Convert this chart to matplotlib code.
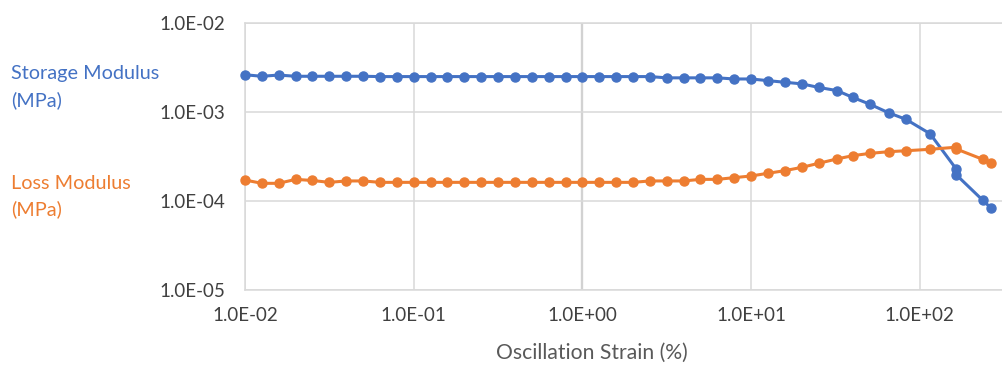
import matplotlib
matplotlib.use("Agg")
import matplotlib.pyplot as plt
from matplotlib.ticker import FuncFormatter, FixedLocator, NullLocator

# oscillation strain (%)
strain = [0.01, 0.0126, 0.0158, 0.02, 0.0251, 0.0316, 0.0398, 0.0501, 0.0631, 0.0794,
          0.1, 0.126, 0.158, 0.2, 0.251, 0.316, 0.398, 0.501, 0.631, 0.794,
          1.0, 1.26, 1.58, 2.0, 2.51, 3.16, 3.98, 5.01, 6.31, 7.94,
          10.0, 12.6, 15.8, 20.0, 25.1, 32.3, 40.0, 50.7, 65.3, 82.8,
          115, 164, 164, 236, 263]

# storage modulus (MPa)
storage = [2.62e-3, 2.52e-3, 2.60e-3, 2.52e-3, 2.52e-3, 2.52e-3, 2.52e-3, 2.52e-3, 2.50e-3, 2.50e-3,
           2.50e-3, 2.50e-3, 2.50e-3, 2.50e-3, 2.50e-3, 2.50e-3, 2.50e-3, 2.50e-3, 2.50e-3, 2.50e-3,
           2.50e-3, 2.50e-3, 2.50e-3, 2.50e-3, 2.50e-3, 2.42e-3, 2.42e-3, 2.42e-3, 2.42e-3, 2.35e-3,
           2.35e-3, 2.25e-3, 2.16e-3, 2.07e-3, 1.89e-3, 1.74e-3, 1.46e-3, 1.22e-3, 0.98e-3, 8.27e-4,
           5.7e-4, 2.3e-4, 1.98e-4, 1.02e-4, 8.4e-5]

# loss modulus (MPa)
loss = [1.72e-4, 1.58e-4, 1.58e-4, 1.75e-4, 1.70e-4, 1.62e-4, 1.68e-4, 1.68e-4, 1.62e-4, 1.62e-4,
        1.62e-4, 1.62e-4, 1.62e-4, 1.62e-4, 1.62e-4, 1.62e-4, 1.62e-4, 1.62e-4, 1.62e-4, 1.62e-4,
        1.62e-4, 1.62e-4, 1.62e-4, 1.62e-4, 1.68e-4, 1.68e-4, 1.68e-4, 1.75e-4, 1.75e-4, 1.83e-4,
        1.91e-4, 2.05e-4, 2.19e-4, 2.39e-4, 2.65e-4, 2.97e-4, 3.23e-4, 3.43e-4, 3.58e-4, 3.67e-4,
        3.81e-4, 4.02e-4, 3.85e-4, 2.94e-4, 2.65e-4]

x_ticks = [1e-2, 1e-1, 1e0, 1e1, 1e2]
y_ticks = [1e-5, 1e-4, 1e-3, 1e-2]

blue = '#4472C4'
orange = '#ED7D31'
grid_c = '#D9D9D9'
text_c = '#404040'

plt.rcParams['font.family'] = ['Lato', 'DejaVu Sans']

W, H = 1002, 367
fig = plt.figure(figsize=(W / 100, H / 100), dpi=100)
ax = fig.add_axes([245 / W, (H - 290) / H, (W - 245) / W, (290 - 23) / H])

ax.set_xscale('log')
ax.set_yscale('log')
ax.set_xlim(0.01, 307)
ax.set_ylim(1e-5, 1e-2)

ax.xaxis.set_major_locator(FixedLocator(x_ticks))
ax.yaxis.set_major_locator(FixedLocator(y_ticks))
ax.xaxis.set_minor_locator(NullLocator())
ax.yaxis.set_minor_locator(NullLocator())
fmt = FuncFormatter(lambda v, p: f"{v:.1E}")
ax.xaxis.set_major_formatter(fmt)
ax.yaxis.set_major_formatter(fmt)

ax.grid(True, color=grid_c, linewidth=1.1)
ax.axvline(1.0, color='#BFBFBF', linewidth=1.6, zorder=1)
for s in ['left', 'top', 'bottom']:
    ax.spines[s].set_color(grid_c)
    ax.spines[s].set_linewidth(1.1)
ax.spines['right'].set_visible(False)
ax.tick_params(length=0, labelsize=13.5, labelcolor=text_c)
ax.tick_params(axis='y', pad=14)
ax.tick_params(axis='x', pad=12)

ax.plot(strain, storage, color=blue, linewidth=2.2, marker='o', markersize=6.5, zorder=3, clip_on=False)
ax.plot(strain, loss, color=orange, linewidth=2.2, marker='o', markersize=6.5, zorder=3, clip_on=False)

fig.text(11 / W, 1 - 65 / H, 'Storage Modulus\n(MPa)', color=blue, fontsize=14.3,
         va='top', ha='left', linespacing=1.6)
fig.text(11 / W, 1 - 175 / H, 'Loss Modulus\n(MPa)', color=orange, fontsize=14.3,
         va='top', ha='left', linespacing=1.55)
fig.text(592 / W, 1 - 353 / H, 'Oscillation Strain (%)', color='#595959', fontsize=15.2,
         ha='center', va='center')

fig.savefig('out.png', dpi=100)
